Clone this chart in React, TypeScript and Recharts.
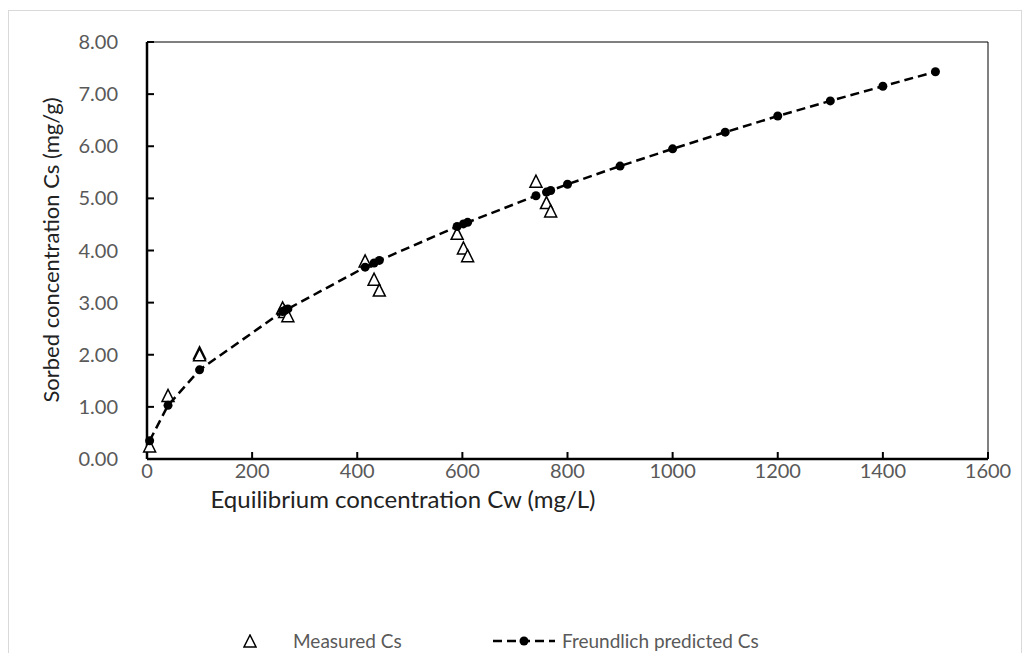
import React from 'react';
import { ScatterChart, Scatter, XAxis, YAxis, ReferenceArea } from 'recharts';

// axis ticks
const xTicks = [0, 200, 400, 600, 800, 1000, 1200, 1400, 1600];
const yTicks = [0, 1, 2, 3, 4, 5, 6, 7, 8];

// measured sorption data (Cw mg/L, Cs mg/g)
const measuredCw = [5, 40, 100, 100, 258, 262, 268, 415, 432, 442, 590, 602, 610, 740, 760, 768];
const measuredCs = [0.25, 1.22, 2.04, 2.0, 2.9, 2.83, 2.75, 3.8, 3.45, 3.24, 4.33, 4.05, 3.9, 5.33, 4.92, 4.76];

// Freundlich model predictions
const predictedCw = [5, 40, 100, 258, 262, 268, 415, 432, 442, 590, 602, 610, 740, 760, 768, 800, 900, 1000, 1100, 1200, 1300, 1400, 1500];
const predictedCs = [0.35, 1.03, 1.71, 2.83, 2.85, 2.88, 3.68, 3.76, 3.81, 4.46, 4.51, 4.54, 5.05, 5.12, 5.15, 5.27, 5.62, 5.95, 6.27, 6.58, 6.87, 7.15, 7.43];

const measured = measuredCw.map((cw, i) => ({ cw, cs: measuredCs[i] }));
const predicted = predictedCw.map((cw, i) => ({ cw, cs: predictedCs[i] }));

const FONT = "Lato, 'Open Sans', sans-serif";
const GREY = '#595959';

const Triangle = (props: any) => {
  const { cx, cy } = props;
  if (cx == null || cy == null) return null;
  return (
    <polygon
      points={`${cx},${cy - 6} ${cx - 6},${cy + 6} ${cx + 6},${cy + 6}`}
      fill="#fff"
      stroke="#000"
      strokeWidth={1.5}
    />
  );
};

const Dot = (props: any) => {
  const { cx, cy } = props;
  if (cx == null || cy == null) return null;
  return <circle cx={cx} cy={cy} r={4.5} fill="#000" />;
};

const App: React.FC = () => {
  return (
    <div
      style={{
        position: 'relative',
        top: 2,
        width: 1014,
        height: 645,
        border: '1px solid #d9d9d9',
        boxSizing: 'border-box',
        background: '#fff',
        fontFamily: FONT,
      }}
    >
      <ScatterChart width={1012} height={643} margin={{ top: 31, right: 33, bottom: 155, left: 60 }}>
        <ReferenceArea x1={0} x2={1600} y1={0} y2={8} fill="none" stroke="#000" strokeWidth={1} />
        <XAxis
          dataKey="cw"
          type="number"
          domain={[0, 1600]}
          ticks={xTicks}
          height={40}
          tickSize={-7}
          tickMargin={12}
          axisLine={{ stroke: '#000', strokeWidth: 2.5 }}
          tickLine={{ stroke: '#000', strokeWidth: 2 }}
          tick={{ fill: GREY, fontSize: 20, fontFamily: FONT }}
        />
        <YAxis
          dataKey="cs"
          type="number"
          domain={[0, 8]}
          ticks={yTicks}
          width={78}
          tickSize={-7}
          tickMargin={36}
          tickFormatter={(v: number) => v.toFixed(2)}
          axisLine={{ stroke: '#000', strokeWidth: 2.5 }}
          tickLine={{ stroke: '#000', strokeWidth: 2 }}
          tick={{ fill: GREY, fontSize: 20, fontFamily: FONT }}
        />
        <Scatter name="Measured Cs" data={measured} shape={<Triangle />} isAnimationActive={false} />
        <Scatter
          name="Freundlich predicted Cs"
          data={predicted}
          shape={<Dot />}
          line={{ stroke: '#000', strokeWidth: 2.5, strokeDasharray: '9 5' }}
          isAnimationActive={false}
        />
      </ScatterChart>

      {/* axis titles */}
      <div
        style={{
          position: 'absolute',
          left: 41,
          top: 239,
          transform: 'translate(-50%, -50%) rotate(-90deg)',
          whiteSpace: 'nowrap',
          fontSize: 22,
          color: '#222',
        }}
      >
        Sorbed concentration Cs (mg/g)
      </div>
      <div
        style={{
          position: 'absolute',
          left: 394,
          top: 488,
          transform: 'translate(-50%, -50%)',
          whiteSpace: 'nowrap',
          fontSize: 24,
          lineHeight: '26px',
          color: '#222',
        }}
      >
        Equilibrium concentration Cw (mg/L)
      </div>

      {/* legend */}
      <svg style={{ position: 'absolute', left: 234, top: 623 }} width={14} height={14}>
        <polygon points="7,1 1,13 13,13" fill="#fff" stroke="#000" strokeWidth={1.5} />
      </svg>
      <div style={{ position: 'absolute', left: 284, top: 615, lineHeight: '30px', fontSize: 19, color: GREY }}>
        Measured Cs
      </div>
      <svg style={{ position: 'absolute', left: 484, top: 623 }} width={62} height={14}>
        <line x1={0} y1={7} x2={62} y2={7} stroke="#000" strokeWidth={2.5} strokeDasharray="9 5" />
        <circle cx={31} cy={7} r={4.5} fill="#000" />
      </svg>
      <div style={{ position: 'absolute', left: 553, top: 615, lineHeight: '30px', fontSize: 19, color: GREY }}>
        Freundlich predicted Cs
      </div>
    </div>
  );
};

export default App;
